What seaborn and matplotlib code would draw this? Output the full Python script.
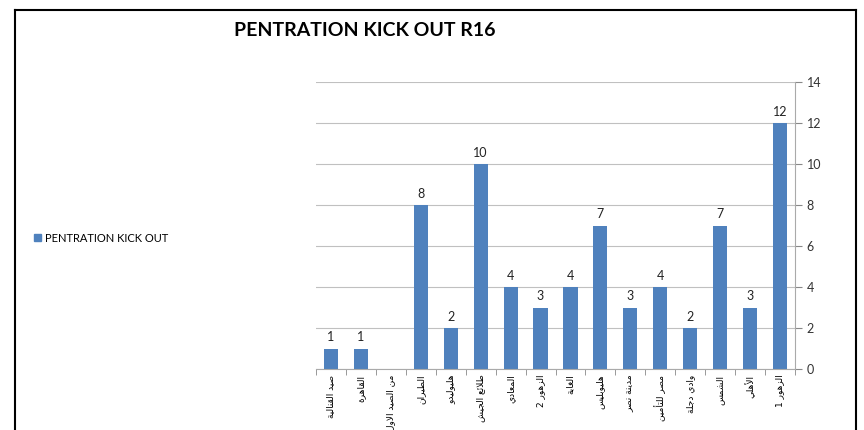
import unicodedata
import matplotlib
matplotlib.use("Agg")
import matplotlib.pyplot as plt
import seaborn as sns
from matplotlib.patches import Patch
from matplotlib.lines import Line2D

teams = ["صيد القنالية", "القاهرة", "من الصيد الاول", "الطيران", "هليوليدو",
         "طلائع الجيش", "المعادي", "الزهور 2", "الغابة", "هليوبليس",
         "مدينة نصر", "مصر للتأمين", "وادي دجلة", "الشمس", "الأهلي", "الزهور 1"]
kick_out = [1, 1, 0, 8, 2, 10, 4, 3, 4, 7, 3, 4, 2, 7, 3, 12]
y_ticks = [0, 2, 4, 6, 8, 10, 12, 14]

BLUE = "#4F81BD"

# small arabic shaper (matplotlib has no text shaping / RTL)
RIGHT_ONLY = set("اأإآدذرزوؤةى")
LAM_ALEF = {"ا": "ARABIC LIGATURE LAM WITH ALEF",
            "أ": "ARABIC LIGATURE LAM WITH ALEF WITH HAMZA ABOVE",
            "إ": "ARABIC LIGATURE LAM WITH ALEF WITH HAMZA BELOW",
            "آ": "ARABIC LIGATURE LAM WITH ALEF WITH MADDA ABOVE"}


def is_ar(c):
    return "\u0621" <= c <= "\u064A"


def shape_ar(text):
    res = []
    i = 0
    n = len(text)
    while i < n:
        c = text[i]
        if not is_ar(c):
            res.append(c)
            i += 1
            continue
        prev = text[i - 1] if i > 0 else ""
        prev_join = is_ar(prev) and prev not in RIGHT_ONLY
        if c == "ل" and i + 1 < n and text[i + 1] in LAM_ALEF:
            form = "FINAL" if prev_join else "ISOLATED"
            res.append(unicodedata.lookup(f"{LAM_ALEF[text[i + 1]]} {form} FORM"))
            i += 2
            continue
        nxt = text[i + 1] if i + 1 < n else ""
        next_join = is_ar(nxt) and c not in RIGHT_ONLY
        if prev_join and next_join:
            form = "MEDIAL"
        elif prev_join:
            form = "FINAL"
        elif next_join:
            form = "INITIAL"
        else:
            form = "ISOLATED"
        try:
            res.append(unicodedata.lookup(f"{unicodedata.name(c)} {form} FORM"))
        except KeyError:
            res.append(c)
        i += 1
    return "".join(reversed(res))


plt.rcParams["font.family"] = ["Lato", "DejaVu Sans"]

fig = plt.figure(figsize=(8.64, 4.30), dpi=100)
ax = fig.add_axes([316 / 864, 1 - 369 / 430, (795 - 316) / 864, (369 - 82) / 430])

sns.barplot(x=teams, y=kick_out, color=BLUE, width=0.47, saturation=1, ax=ax)

for i, v in enumerate(kick_out):
    if v > 0:
        ax.text(i, v + 0.25, str(v), ha="center", va="bottom", fontsize=9, color="#222222")

ax.set_ylim(0, 14)
ax.set_xlim(-0.5, len(teams) - 0.5)
ax.set_yticks(y_ticks)
ax.yaxis.tick_right()
ax.tick_params(axis="y", colors="#888888", labelcolor="#333333", labelsize=9, length=5)
ax.set_xticks(range(len(teams)))
ax.set_xticklabels([shape_ar(t) for t in teams], rotation=90, fontsize=6.5,
                   family=["DejaVu Sans"])
ax.tick_params(axis="x", length=0, pad=4)
ax.set_xticks([i - 0.5 for i in range(len(teams) + 1)], minor=True)
ax.tick_params(axis="x", which="minor", length=4, color="#888888")

ax.grid(axis="y", color="#C0C0C0", linewidth=0.8)
ax.set_axisbelow(True)
for s in ["top", "left"]:
    ax.spines[s].set_visible(False)
ax.spines["right"].set_color("#AAAAAA")
ax.spines["bottom"].set_color("#AAAAAA")
ax.set_xlabel("")
ax.set_ylabel("")

fig.text(365 / 864, 1 - 30 / 430, "PENTRATION KICK OUT R16", ha="center", va="center",
         fontsize=14, fontweight="bold")

fig.legend(handles=[Patch(color=BLUE, label="PENTRATION KICK OUT")],
           loc="center left", bbox_to_anchor=(24 / 864, 1 - 238 / 430), frameon=False,
           fontsize=8, handlelength=0.6, handleheight=0.6, handletextpad=0.4)

# outer frame
fig.add_artist(Line2D([15 / 864, 15 / 864], [0, 1 - 10 / 430], color="black", lw=1.5))
fig.add_artist(Line2D([15 / 864, 856 / 864], [1 - 10 / 430, 1 - 10 / 430], color="black", lw=1.5))
fig.add_artist(Line2D([856 / 864, 856 / 864], [0, 1 - 10 / 430], color="black", lw=1.5))

fig.savefig("out.png", dpi=100)
